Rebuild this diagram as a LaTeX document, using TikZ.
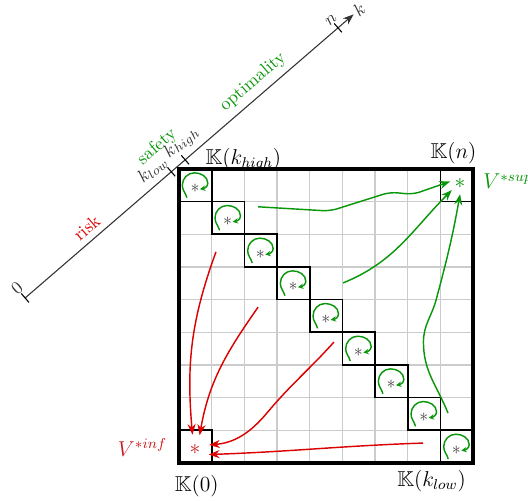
\documentclass[tikz,border=0pt]{standalone}
\usepackage{amsfonts}
\usepackage{amsmath}
\usepackage{amssymb}
\usepackage{tikz}
\usetikzlibrary{calc, arrows.meta}
\usepackage{xcolor}

\definecolor{optgreen}{RGB}{10,150,10}
\definecolor{riskred}{RGB}{220,0,0}
\definecolor{infred}{RGB}{200,30,30}

\begin{document}
\begin{tikzpicture}[scale=.64,
    cellbox/.style={line width=0.9pt},
    diagstar/.style={text=black!75, inner sep=0pt},
    bigstar/.style={circle, inner sep=0pt, font=\large},
    curl/.style={optgreen, line width=0.8pt, -{Stealth[length=3pt, width=3pt]}},
    goodflow/.style={optgreen, line width=0.8pt, -{Stealth[length=6pt, width=4.5pt]}},
    badflow/.style={riskred, line width=0.8pt, -{Stealth[length=6pt, width=4.5pt]}}]

    % ==========================================
    % DEFINE PARAMETERS & COORDINATES
    % ==========================================

    \def\N{9}           % cells per side of the square
    \def\axAngle{40.8}  % direction of the k-axis
    \def\axLen{13.28}   % length of the k-axis
    \def\tickLen{0.18}  % half length of a tick

    \useasboundingbox (-5.48,-1.16) rectangle (10.68,14.17);

    % k-axis: start, ticks and end
    \coordinate (O)     at (-4.71,5.05);
    \coordinate (Klow)  at ($(O) + (\axAngle:5.91)$);
    \coordinate (Khigh) at ($(O) + (\axAngle:6.47)$);
    \coordinate (Kn)    at ($(O) + (\axAngle:12.65)$);
    \coordinate (Kend)  at ($(O) + (\axAngle:\axLen)$);

    % free ends of the flows
    \coordinate (g1) at (2.42,7.84);
    \coordinate (g2) at (5.02,5.51);
    \coordinate (g3) at (8.23,1.53);
    \coordinate (r1) at (1.13,6.46);
    \coordinate (r2) at (2.42,4.77);
    \coordinate (r3) at (4.74,3.70);
    \coordinate (r4) at (7.47,0.61);

    % ==========================================
    % DRAW THE K-AXIS
    % ==========================================

    \draw[black!80, line width=0.6pt, -{Stealth[length=6pt, width=4.5pt]}] (O) -- (Kend)
        node[pos=0, sloped, above] {$0$}
        node[pos=0.213, sloped, above, text=riskred] {risk}
        node[pos=0.416, sloped, above] {$k_{low}$}
        node[pos=0.508, sloped, above] {$k_{high}$}
        node[pos=0.723, sloped, above, text=optgreen] {optimality}
        node[pos=0.9526, sloped, above] {$n$}
        node[pos=1, sloped, right, inner sep=1pt] {$k$};

    \node[rotate=\axAngle, text=optgreen] (safety) at ($(O) + (\axAngle:6.08) + (\axAngle+90:0.86)$) {safety};

    % ticks
    \foreach \p in {O, Klow, Khigh, Kn}
        \draw[line width=0.6pt] ($(\p) + (\axAngle+90:\tickLen)$) -- ($(\p) + (\axAngle-90:\tickLen)$);

    % ==========================================
    % DRAW THE GRID & THE DIAGONAL
    % ==========================================

    \draw[black!20, line width=0.8pt, step=1] (0,0) grid (\N,\N);

    \foreach \i in {0,...,8} {
        \begin{scope}[shift={(\i,8-\i)}]
            \draw[cellbox] (0,0) rectangle (1,1);
            \node[diagstar] (d\i) at (0.49,0.40) {$*$};
            \draw[curl] (0.24,0.12) to[out=105, in=-90] (0.1,0.5) to[out=90, in=180] (0.47,0.88)
                to[out=0, in=90] (0.88,0.56) to[out=-90, in=10] (0.64,0.38);
        \end{scope}
    }

    % corner cells
    \draw[cellbox] (8,8) rectangle (9,9);
    \draw[cellbox] (0,0) rectangle (1,1);

    \node[bigstar, text=optgreen, minimum size=11pt] (supstar) at (8.6,8.54) {$*$};
    \node[bigstar, text=infred, minimum size=16pt] (infstar) at (0.49,0.42) {$*$};

    % outer frame
    \draw[line width=1.8pt] (0,0) rectangle (\N,\N);

    % ==========================================
    % LABELS
    % ==========================================

    \node[anchor=base west, font=\large] (lblhigh) at (0.62,9.15) {$\mathbb{K}(k_{high})$};
    \node[anchor=base, font=\large] (lbln) at (8.40,9.31) {$\mathbb{K}(n)$};
    \node[anchor=base, font=\large] (lblzero) at (0.54,-0.86) {$\mathbb{K}(0)$};
    \node[anchor=base, font=\large] (lbllow) at (7.73,-0.72) {$\mathbb{K}(k_{low})$};
    \node[anchor=base west, font=\large, text=optgreen] (vsup) at (9.12,8.39) {$V^{*sup}$};
    \node[anchor=base east, font=\large, text=infred] (vinf) at (-0.18,0.21) {$V^{*inf}$};

    % ==========================================
    % FLOWS TO THE EXTREME VALUES
    % ==========================================

    % towards V^{*sup}
    \draw[goodflow, rounded corners=4pt] (g1) -- (4.62,7.71) -- (6.46,8.29) -- (7.16,8.22) -- (supstar.166);
    \draw[goodflow] (g2) to[out=22, in=225] (supstar.217);
    \draw[goodflow] (g3) to[out=112, in=-90] (7.48,3.7) to[out=90, in=-105] (7.87,5.0)
        to[out=75, in=-100] (supstar.270);

    % towards V^{*inf}
    \draw[badflow] (r1) to[out=-110, in=95] (infstar.100);
    \draw[badflow] (r2) to[out=-125, in=80] (infstar.72);
    \draw[badflow] (r3) to[out=-132, in=50] (2.69,1.53) to[out=-130, in=5] (infstar.17);
    \draw[badflow] (r4) to[out=182, in=2] (infstar.-21);

\end{tikzpicture}
\end{document}
